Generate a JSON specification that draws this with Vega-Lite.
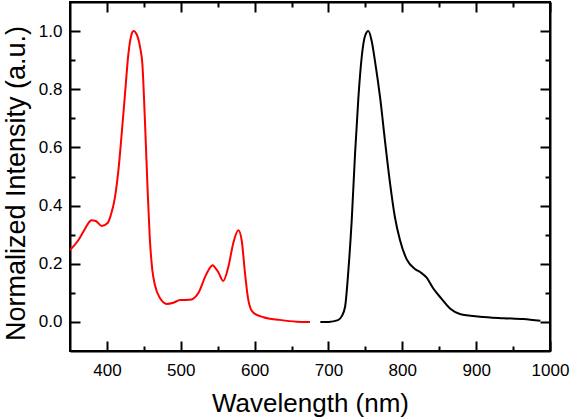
{
 "$schema": "https://vega.github.io/schema/vega-lite/v6.json",
 "width": 480, "height": 349,
 "autosize": "none",
 "padding": {"left": 70, "top": 2, "right": 20, "bottom": 68},
 "config": {
  "font": "Liberation Sans",
  "view": {"stroke": "black", "strokeWidth": 2},
  "axis": {"labelFont": "Liberation Sans", "titleFont": "Liberation Sans", "labelFontSize": 17, "labelColor": "black", "titleColor": "black", "titleFontWeight": "normal", "tickColor": "black", "tickWidth": 2, "domainColor": "black", "domainWidth": 2, "grid": false, "labelFlush": false, "labelOverlap": false}
 },
 "data": {"values": [
  {"series": "red", "nm": 350, "v": 0.247},
  {"series": "red", "nm": 361, "v": 0.28},
  {"series": "red", "nm": 368, "v": 0.31},
  {"series": "red", "nm": 375, "v": 0.34},
  {"series": "red", "nm": 379, "v": 0.35},
  {"series": "red", "nm": 385, "v": 0.347},
  {"series": "red", "nm": 393, "v": 0.33},
  {"series": "red", "nm": 401, "v": 0.34},
  {"series": "red", "nm": 405, "v": 0.365},
  {"series": "red", "nm": 411, "v": 0.43},
  {"series": "red", "nm": 415.5, "v": 0.52},
  {"series": "red", "nm": 420, "v": 0.647},
  {"series": "red", "nm": 424.5, "v": 0.784},
  {"series": "red", "nm": 429, "v": 0.92},
  {"series": "red", "nm": 433.5, "v": 0.99},
  {"series": "red", "nm": 436, "v": 1.0},
  {"series": "red", "nm": 440, "v": 0.99},
  {"series": "red", "nm": 445, "v": 0.943},
  {"series": "red", "nm": 448, "v": 0.887},
  {"series": "red", "nm": 451.5, "v": 0.69},
  {"series": "red", "nm": 455, "v": 0.46},
  {"series": "red", "nm": 458, "v": 0.29},
  {"series": "red", "nm": 461.5, "v": 0.178},
  {"series": "red", "nm": 465, "v": 0.127},
  {"series": "red", "nm": 472, "v": 0.081},
  {"series": "red", "nm": 481, "v": 0.062},
  {"series": "red", "nm": 490, "v": 0.066},
  {"series": "red", "nm": 499, "v": 0.075},
  {"series": "red", "nm": 512, "v": 0.076},
  {"series": "red", "nm": 517, "v": 0.08},
  {"series": "red", "nm": 524, "v": 0.1},
  {"series": "red", "nm": 533, "v": 0.155},
  {"series": "red", "nm": 538, "v": 0.18},
  {"series": "red", "nm": 543, "v": 0.195},
  {"series": "red", "nm": 547, "v": 0.185},
  {"series": "red", "nm": 551, "v": 0.17},
  {"series": "red", "nm": 557.5, "v": 0.141},
  {"series": "red", "nm": 564.5, "v": 0.19},
  {"series": "red", "nm": 571, "v": 0.27},
  {"series": "red", "nm": 578, "v": 0.315},
  {"series": "red", "nm": 582.5, "v": 0.28},
  {"series": "red", "nm": 587, "v": 0.167},
  {"series": "red", "nm": 591.5, "v": 0.075},
  {"series": "red", "nm": 598, "v": 0.032},
  {"series": "red", "nm": 612, "v": 0.016},
  {"series": "red", "nm": 634, "v": 0.007},
  {"series": "red", "nm": 657, "v": 0.001},
  {"series": "red", "nm": 675, "v": 0.0},
  {"series": "black", "nm": 689, "v": 0.0},
  {"series": "black", "nm": 700, "v": 0.0},
  {"series": "black", "nm": 713, "v": 0.006},
  {"series": "black", "nm": 718, "v": 0.02},
  {"series": "black", "nm": 722.5, "v": 0.052},
  {"series": "black", "nm": 727, "v": 0.178},
  {"series": "black", "nm": 731.5, "v": 0.35},
  {"series": "black", "nm": 736, "v": 0.578},
  {"series": "black", "nm": 740.5, "v": 0.77},
  {"series": "black", "nm": 745, "v": 0.91},
  {"series": "black", "nm": 749.5, "v": 0.983},
  {"series": "black", "nm": 754, "v": 1.0},
  {"series": "black", "nm": 758.5, "v": 0.966},
  {"series": "black", "nm": 763, "v": 0.897},
  {"series": "black", "nm": 770, "v": 0.77},
  {"series": "black", "nm": 777, "v": 0.612},
  {"series": "black", "nm": 783.5, "v": 0.475},
  {"series": "black", "nm": 790, "v": 0.36},
  {"series": "black", "nm": 797, "v": 0.28},
  {"series": "black", "nm": 806, "v": 0.215},
  {"series": "black", "nm": 817, "v": 0.182},
  {"series": "black", "nm": 825, "v": 0.17},
  {"series": "black", "nm": 833, "v": 0.152},
  {"series": "black", "nm": 842, "v": 0.115},
  {"series": "black", "nm": 853, "v": 0.08},
  {"series": "black", "nm": 865, "v": 0.045},
  {"series": "black", "nm": 878, "v": 0.027},
  {"series": "black", "nm": 905, "v": 0.018},
  {"series": "black", "nm": 937, "v": 0.013},
  {"series": "black", "nm": 964, "v": 0.01},
  {"series": "black", "nm": 987, "v": 0.004}
 ]},
 "layer": [
  {
   "transform": [{"filter": "datum.series === 'red'"}],
   "mark": {"type": "line", "color": "#ff0000", "strokeWidth": 2, "interpolate": "monotone"},
   "encoding": {
    "x": {"field": "nm", "type": "quantitative", "scale": {"domain": [350, 1000], "nice": false, "zero": false},
     "axis": {"orient": "bottom", "title": "Wavelength (nm)", "titleFontSize": 26, "titlePadding": 7, "format": "d",
      "values": [400, 450, 500, 550, 600, 650, 700, 750, 800, 850, 900, 950, 1000],
      "labelExpr": "datum.value % 100 === 0 ? datum.label : ''",
      "tickSize": {"condition": {"test": "datum.value % 100 === 0", "value": -10}, "value": -5},
      "labelPadding": 21}},
    "y": {"field": "v", "type": "quantitative", "scale": {"domain": [-0.1, 1.1], "nice": false, "zero": false},
     "axis": {"orient": "left", "title": "Normalized Intensity (a.u.)", "titleFontSize": 27, "titlePadding": 8, "titleY": 181,
      "values": [0, 0.1, 0.2, 0.3, 0.4, 0.5, 0.6, 0.7, 0.8, 0.9, 1.0],
      "labelExpr": "round(datum.value * 10) % 2 === 0 ? format(datum.value, '.1f') : ''",
      "tickSize": {"condition": {"test": "round(datum.value * 10) % 2 === 0", "value": -10}, "value": -5},
      "labelPadding": 18}}
   }
  },
  {
   "transform": [{"filter": "datum.series === 'black'"}],
   "mark": {"type": "line", "color": "#000000", "strokeWidth": 2, "interpolate": "monotone"},
   "encoding": {
    "x": {"field": "nm", "type": "quantitative",
     "axis": {"orient": "top", "title": null, "labels": false,
      "values": [400, 450, 500, 550, 600, 650, 700, 750, 800, 850, 900, 950, 1000],
      "tickSize": {"condition": {"test": "datum.value % 100 === 0", "value": -10}, "value": -5}}},
    "y": {"field": "v", "type": "quantitative",
     "axis": {"orient": "right", "title": null, "labels": false,
      "values": [0, 0.1, 0.2, 0.3, 0.4, 0.5, 0.6, 0.7, 0.8, 0.9, 1.0],
      "tickSize": {"condition": {"test": "round(datum.value * 10) % 2 === 0", "value": -10}, "value": -5}}}
   }
  }
 ],
 "resolve": {"axis": {"x": "independent", "y": "independent"}}
}
